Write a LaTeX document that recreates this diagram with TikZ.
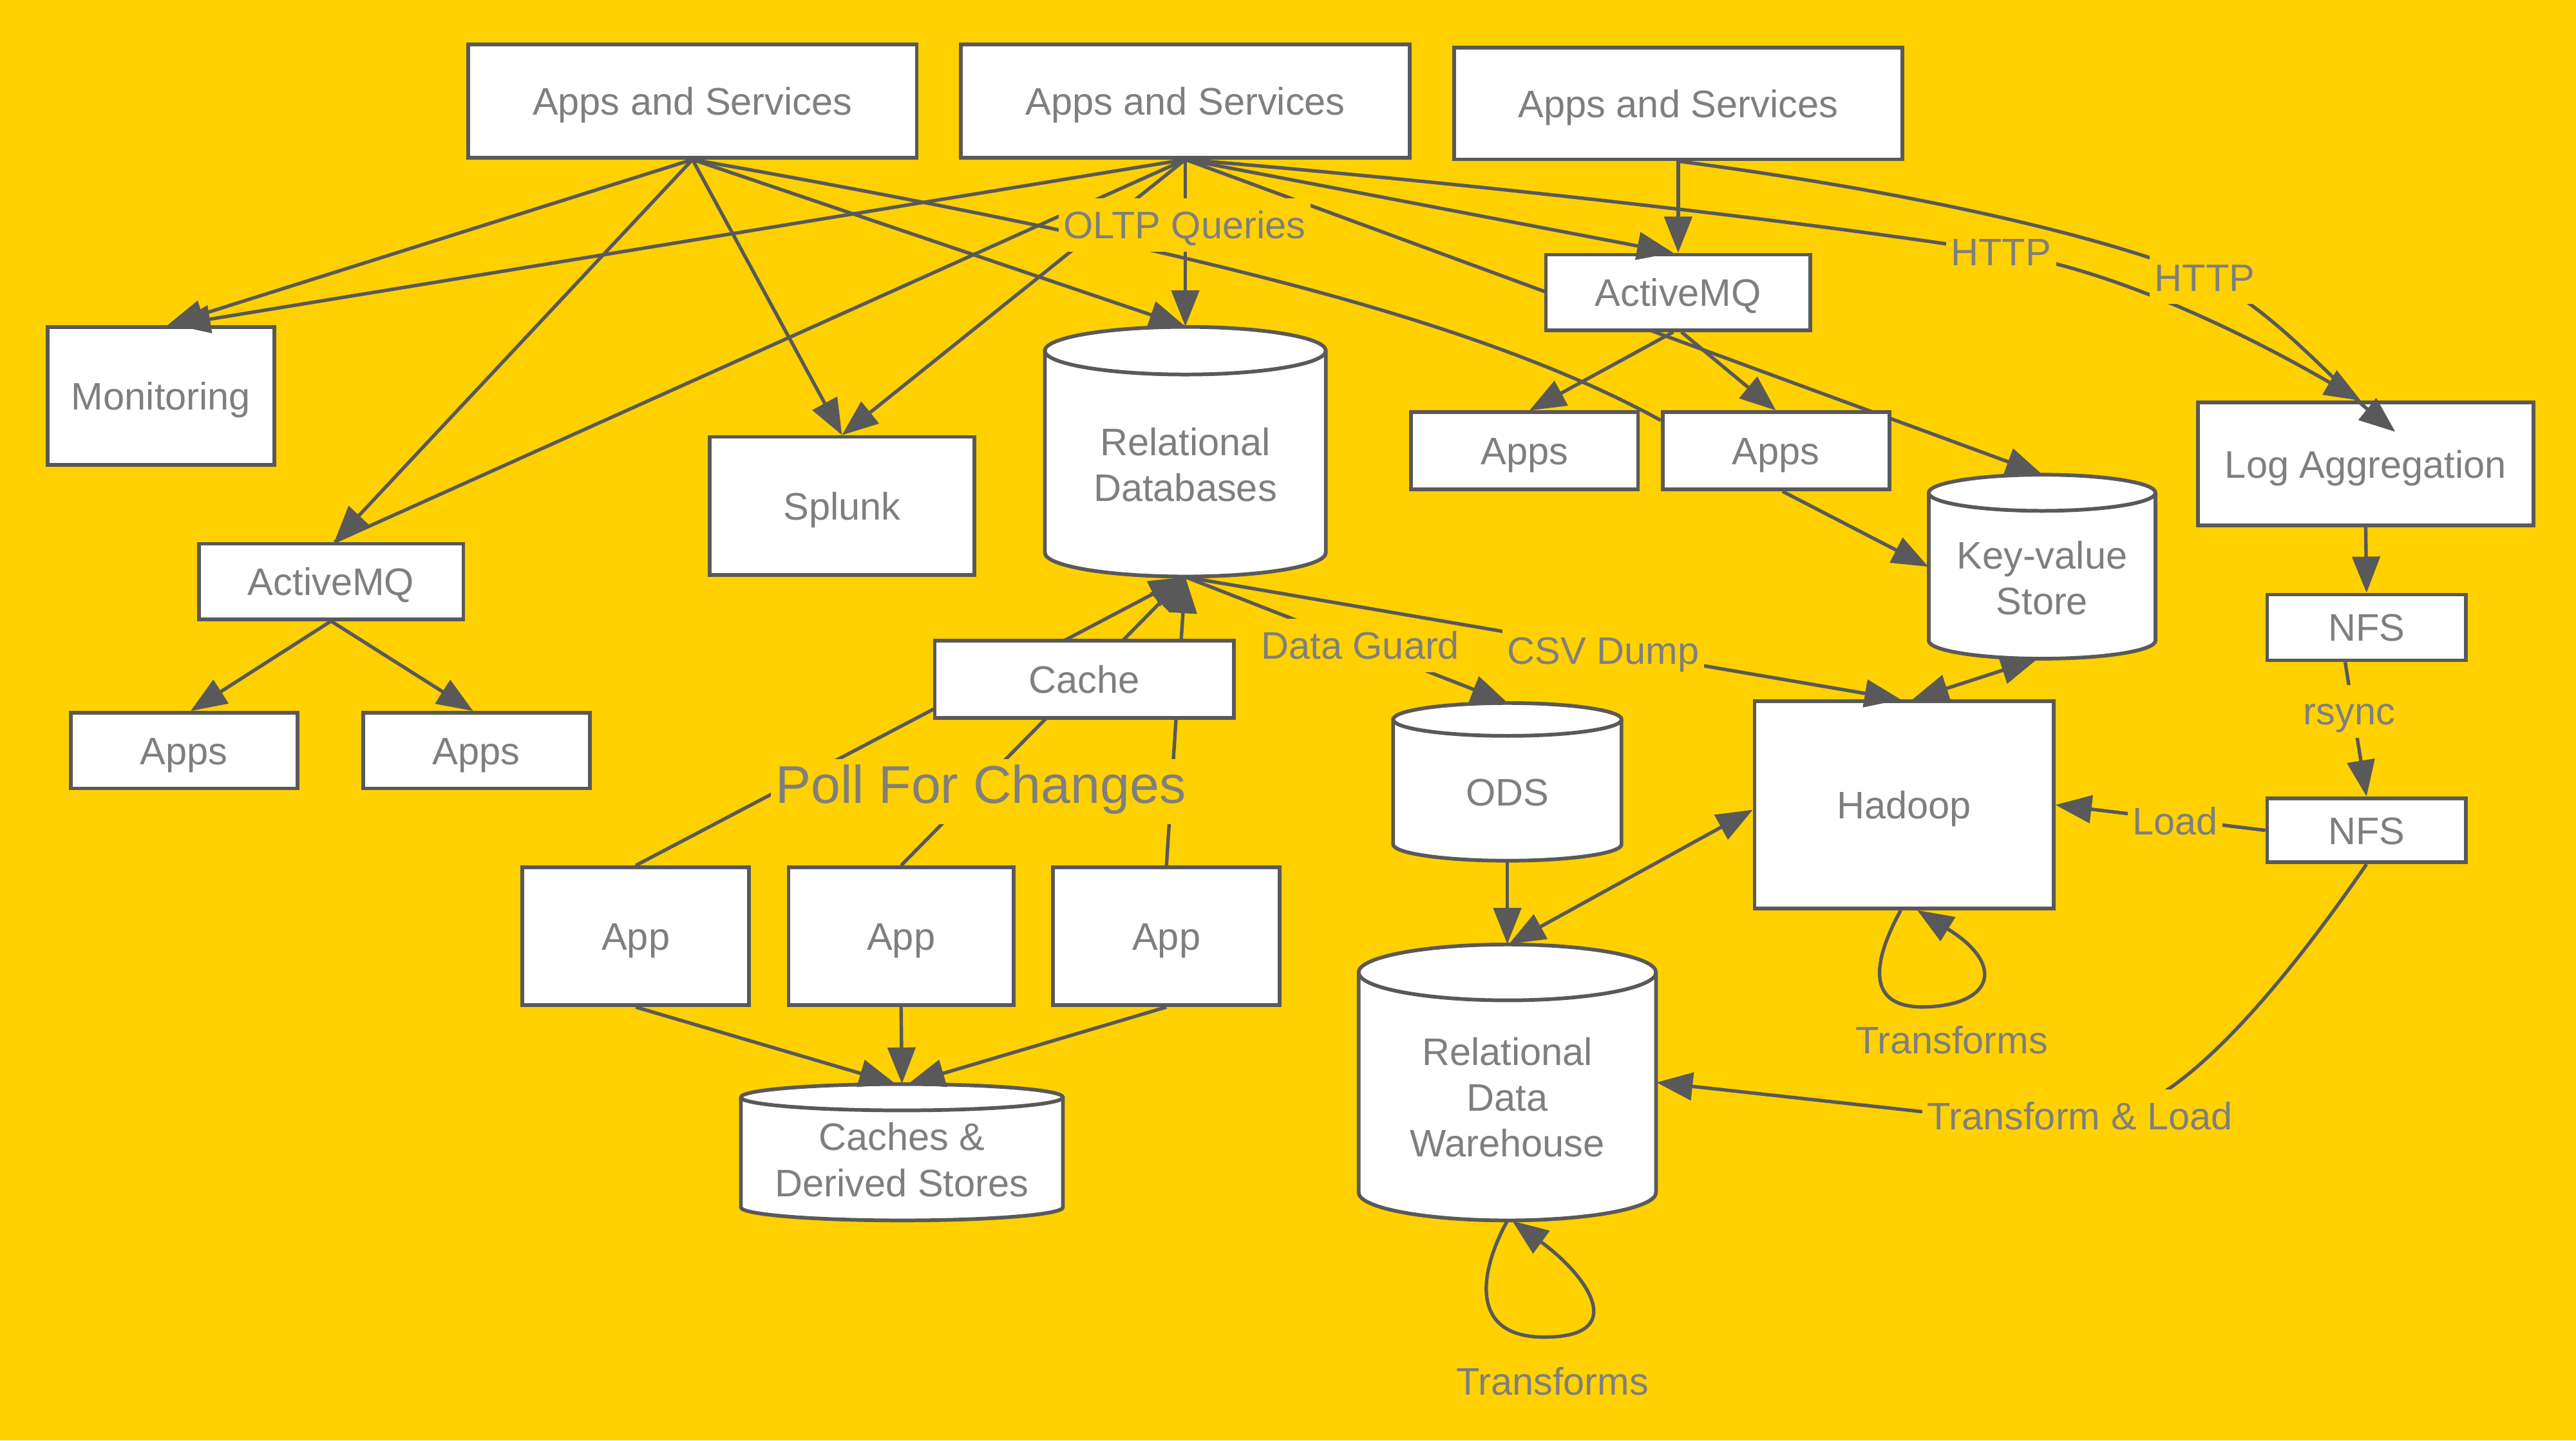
\documentclass[tikz,border=0pt]{standalone}
\usepackage{fontspec}
\setmainfont{Liberation Sans}
\usetikzlibrary{arrows.meta,calc}
\definecolor{bgc}{HTML}{FFD100}
\definecolor{linec}{HTML}{595959}
\definecolor{txtc}{HTML}{7F7F7F}
\pgfdeclarelayer{bgl}
\pgfdeclarelayer{edgel}
\pgfsetlayers{bgl,edgel,main}
\def\pu{0.025cm}
\tikzset{
  x=0.025cm, y=-0.025cm,
  base/.style={font=\fontsize{16.6pt}{19.9pt}\selectfont, text=txtc},
  box/.style={base, draw=linec, fill=white, line width=1.6pt, rectangle, inner sep=0pt, text height=11.95pt, text depth=0pt},
  cyltext/.style={base, align=center, inner sep=0pt},
  conn/.style={draw=linec, line width=1.5pt},
  arr/.style={conn, -{Triangle[length=0.55cm,width=0.42cm]}},
  darr/.style={conn, {Triangle[length=0.55cm,width=0.42cm]}-{Triangle[length=0.55cm,width=0.42cm]}},
  lbl/.style={base, fill=bgc, inner sep=0pt, inner xsep=0.075cm, text height=17.4pt, text depth=5.5pt},
  biglbl/.style={lbl, font=\fontsize{23pt}{27pt}\selectfont, text height=19.1pt, text depth=9.2pt}
}
\newcommand\mybox[6]{\node[box, minimum width={(#4-#2)*\pu}, minimum height={(#5-#3)*\pu}] (#1) at ({(#2+#4)/2},{(#3+#5)/2}) {#6};}
\newcommand\mycyl[6]{%
  \path[draw=linec, fill=white, line width=1.6pt] ({#2-#5},{#3+#6}) -- ({#2-#5},{#4-#6})
     arc[start angle=180, end angle=360, x radius={#5*\pu}, y radius={#6*\pu}]
     -- ({#2+#5},{#3+#6})
     arc[start angle=0, end angle=180, x radius={#5*\pu}, y radius={#6*\pu}] -- cycle;
  \draw[linec, line width=1.6pt] ({#2-#5},{#3+#6}) arc[start angle=180, end angle=360, x radius={#5*\pu}, y radius={#6*\pu}];
  \node[inner sep=0pt, minimum width={2*#5*\pu}, minimum height={(#4-#3)*\pu}] (#1) at (#2,{(#3+#4)/2}) {};
}
\begin{document}
\begin{tikzpicture}
\begin{pgfonlayer}{bgl}
\fill[bgc] (0,0) rectangle (1568,877);
\end{pgfonlayer}
\useasboundingbox (0,0) rectangle (1568,877);

% boxes
\mybox{as1}{285}{27}{558}{96}{Apps and Services}
\mybox{as2}{585}{27}{858}{96}{Apps and Services}
\mybox{as3}{885}{29}{1158}{97}{Apps and Services}
\mybox{mon}{29}{199}{167}{283}{Monitoring}
\mybox{spl}{432}{266}{593}{350}{Splunk}
\mybox{amqa}{121}{331}{282}{377}{ActiveMQ}
\mybox{ala}{43}{434}{181}{480}{Apps}
\mybox{alb}{221}{434}{359}{480}{Apps}
\mybox{cache}{569}{390}{751}{437}{Cache}
\mybox{appa}{318}{528}{456}{612}{App}
\mybox{appb}{480}{528}{617}{612}{App}
\mybox{appc}{641}{528}{779}{612}{App}
\mybox{amqb}{941}{155}{1102}{201}{ActiveMQ}
\mybox{ara}{859}{251}{997}{298}{Apps}
\mybox{arb}{1012}{251}{1150}{298}{Apps}
\mybox{log}{1338}{245}{1542}{320}{Log Aggregation}
\mybox{nfsa}{1380}{362}{1501}{402}{NFS}
\mybox{nfsb}{1380}{486}{1501}{525}{NFS}
\mybox{had}{1068}{427}{1250}{553}{Hadoop}

% cylinders
\mycyl{rdb}{721.5}{199}{351}{85.5}{14.5}
\mycyl{kv}{1243}{289}{401}{69}{11}
\mycyl{ods}{917.5}{428}{524}{69.5}{10}
\mycyl{rdw}{917.5}{575}{743}{90.5}{17}
\mycyl{cds}{549}{660}{743}{98}{8}
\node[cyltext] (rdbt) at (721.5,283) {Relational\\Databases};
\node[cyltext] (kvt) at (1243,352) {Key-value\\Store};
\node[base, inner sep=0pt, text height=11.95pt, text depth=0pt] (odst) at (917.5,482) {ODS};
\node[cyltext] (rdwt) at (917.5,668) {Relational\\Data\\Warehouse};
\node[cyltext] (cdst) at (549,706) {Caches \&\\Derived Stores};

% label positions
\coordinate (lOLTP) at (721,137);
\coordinate (lH1) at (1218,153.5);
\coordinate (lH2) at (1342,169);
\coordinate (tlA) at (1317,665);
\coordinate (tlB) at (1172,677);

% edges hidden behind boxes
\begin{pgfonlayer}{edgel}
\draw[arr] (as2.south) -- (kv.north);
\draw[arr] (appa.north) -- (rdb.south);
\draw[arr] (appb.north) -- (rdb.south);
\draw[arr] (appc.north) -- (rdb.south);
\end{pgfonlayer}

% edges
\draw[arr] (as1.south) -- ([xshift=4*\pu]mon.north);
\draw[arr] (as2.south) -- ([xshift=8*\pu]mon.north);
\draw[conn] (as2.south) -- ([xshift=2*\pu]amqa.north);
\draw[arr] (as1.south) -- ([xshift=2*\pu]amqa.north);
\draw[arr] (as1.south) -- (spl.north);
\draw[arr] (as2.south) -- (spl.north);
\draw[arr] (as1.south) -- (rdb.north);
\draw[arr] (as2.south) -- (rdb.north);
\draw[conn] (as1.south) .. controls (720,150) and (900,195) .. ([yshift=-6*\pu]arb.north west);
\draw[arr] (as2.south) -- ([xshift=-3*\pu]amqb.north);
\draw[arr] (as2.south) .. controls (900,112) and (1100,135) .. (lH1) .. controls (1290,165) and (1370,205) .. ([xshift=-3*\pu]log.north);
\draw[arr] (as3.south) -- (amqb.north);
\draw[arr] ([xshift=-3*\pu]amqb.south) -- ([xshift=3*\pu]ara.north);
\draw[arr] ([xshift=2*\pu]amqb.south) -- (arb.north);
\draw[arr] ([xshift=4*\pu]arb.south) -- (kv.west);
\draw[darr] ([xshift=-3*\pu]kv.south) -- ([xshift=5*\pu]had.north);
\draw[arr] (appa.south) -- ([xshift=-4*\pu]cds.north);
\draw[arr] (appb.south) -- (cds.north);
\draw[arr] (appc.south) -- ([xshift=4*\pu]cds.north);
\draw[arr] (amqa.south) -- ([xshift=4*\pu]ala.north);
\draw[arr] (amqa.south) -- ([xshift=-2*\pu]alb.north);
\draw[arr] (ods.south) -- (rdw.north);
\draw[darr] ([xshift=1*\pu]rdw.north) -- ([yshift=-3*\pu]had.west);
\draw[arr] ([xshift=-2*\pu]had.south) .. controls (1140,585) and (1135,614) .. (1172,613) .. controls (1212,612) and (1222,588) .. ([xshift=8*\pu]had.south);
\draw[arr] (rdw.south) .. controls (900,775) and (895,813) .. (938,814) .. controls (992,815) and (968,778) .. ([xshift=3*\pu]rdw.south);
\draw[arr] (log.south) -- (nfsa.north);
\draw[arr] ([xshift=-13*\pu]nfsa.south) -- (nfsb.north);
\draw[arr] (nfsb.west) -- (had.east);
\draw[arr] (nfsb.south) .. controls (1400,585) and (1355,640) .. (tlA) -- (tlB) -- (rdw.east);

% labels
\node[lbl] (tOLTP) at (lOLTP) {OLTP Queries};
\node[lbl] (tH1) at (lH1) {HTTP};
\draw[arr] (as3.south) .. controls (1150,115) and (1270,140) .. (lH2) .. controls (1380,185) and (1420,232) .. ([xshift=18*\pu,yshift=-19*\pu]log.north);
\node[lbl] (tH2) at (lH2) {HTTP};
\draw[arr] (rdb.south) -- (ods.north);
\node[lbl] (tDG) at (828,393) {Data Guard};
\draw[arr] (rdb.south) -- ([xshift=-2*\pu]had.north);
\node[lbl] (tCSV) at (976,396) {CSV Dump};
\node[biglbl] (tPoll) at (597,482) {Poll For Changes};
\node[lbl] (tLoad) at (1324,500) {Load};
\node[lbl] (tRs) at (1430,433) {rsync};
\node[lbl] (tTL) at (1266,679.5) {Transform \& Load};
\node[lbl] (tTr1) at (1188,633) {Transforms};
\node[lbl] (tTr2) at (945,841) {Transforms};
\end{tikzpicture}
\end{document}
